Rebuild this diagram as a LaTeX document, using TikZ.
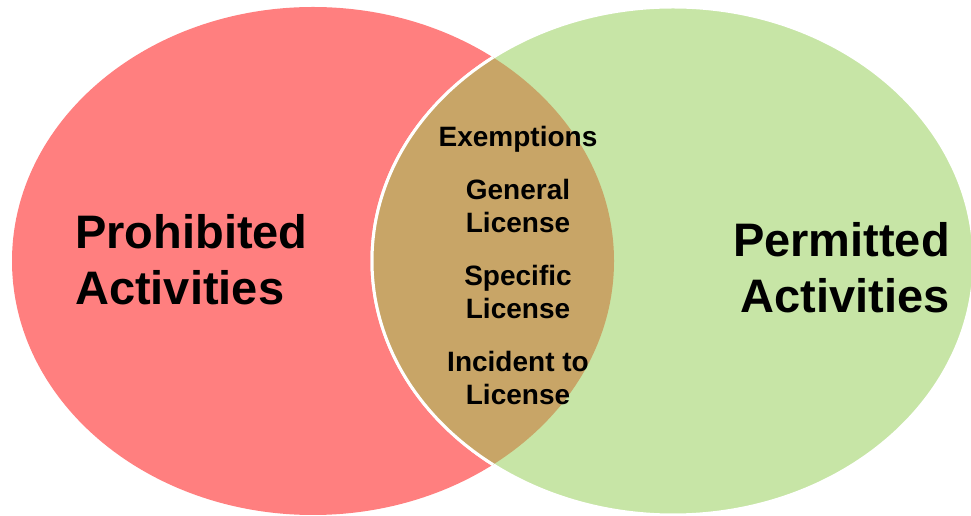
\documentclass[tikz,border=0pt]{standalone}
\usepackage{fontspec}
\setmainfont{Liberation Sans}
\usepackage{tikz}
\usetikzlibrary{positioning}

\definecolor{prohib}{HTML}{FF7F7F}
\definecolor{permit}{HTML}{C7E5A6}
\definecolor{overlap}{HTML}{C8A567}

\begin{document}
\begin{tikzpicture}[x=1pt, y=1pt,
    bigtxt/.style={font=\fontsize{47}{56}\selectfont\bfseries, inner sep=0pt},
    midtxt/.style={font=\fontsize{28}{33}\selectfont\bfseries, inner sep=0pt, align=center, anchor=base}]
    \useasboundingbox (0,0) rectangle (971,516);
    % two sets
    \fill[prohib] (313,255) ellipse [x radius=301, y radius=254];
    \filldraw[permit, draw=white, line width=3pt] (673,255) ellipse [x radius=301, y radius=254];
    \begin{scope}
      \clip (313,255) ellipse [x radius=301, y radius=254];
      \filldraw[overlap, draw=white, line width=3pt] (673,255) ellipse [x radius=301, y radius=254];
    \end{scope}
    % base anchor sits on the last line
    \node[bigtxt, align=left, anchor=base west] (prohibited) at (75,211) {Prohibited\\Activities};
    \node[bigtxt, align=right, anchor=base east] (permitted) at (950,203) {Permitted\\Activities};
    \foreach \y/\lab [count=\i] in {369/Exemptions, 283/{General\\License}, 197/{Specific\\License}, 111/{Incident to\\License}}
      \node[midtxt] (kind\i) at (518,\y) {\lab};
  \end{tikzpicture}
\end{document}
